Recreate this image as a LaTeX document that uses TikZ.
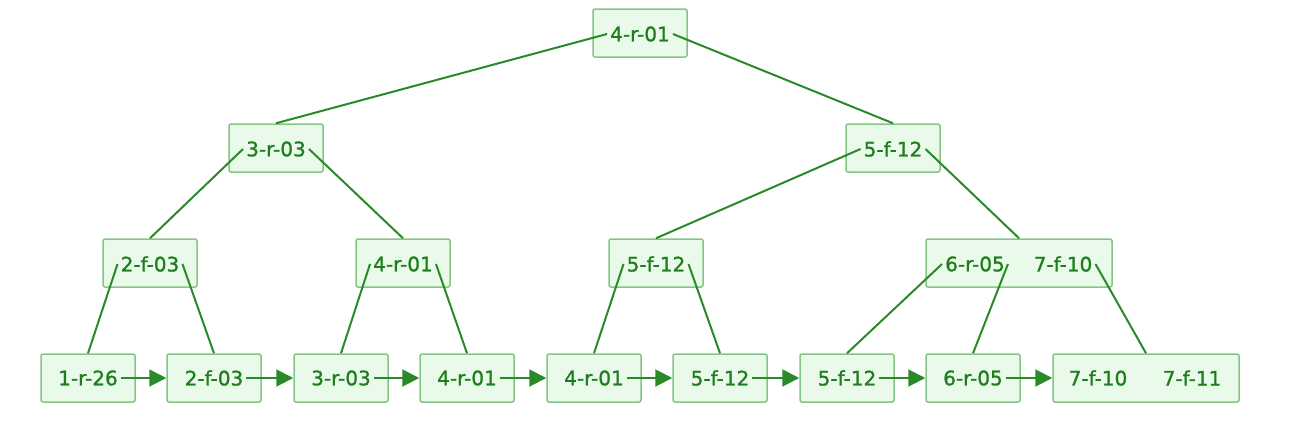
\documentclass[tikz,border=0pt]{standalone}
\usepackage{fontspec}
\setmainfont{DejaVu Sans}
\newfontfamily\keyfont[BoldFont={DejaVu Sans},BoldFeatures={FakeBold=1.2}]{DejaVu Sans}
\usetikzlibrary{arrows.meta}
\definecolor{boxfill}{HTML}{EAFAEA}
\definecolor{boxline}{HTML}{84C484}
\definecolor{txt}{HTML}{1E7E1E}
\definecolor{edge}{HTML}{2A8A2A}
\tikzset{
  bbox/.style={draw=boxline, fill=boxfill, line width=1.5pt, rounded corners=2pt, minimum width=94pt, minimum height=48pt, inner sep=0pt},
  wbox/.style={bbox, minimum width=186pt},
  key/.style={text=txt, font=\keyfont\bfseries\fontsize{20}{22}\selectfont, inner sep=3pt},
  link/.style={draw=edge, line width=2pt},
  nxt/.style={draw=edge, line width=2pt, -{Triangle[length=17pt,width=17pt]}}
}
\begin{document}
\begin{tikzpicture}[x=1pt,y=-1pt]
\useasboundingbox (0,0) rectangle (1300,440);
% root
\node[bbox] (r) at (640,33) {};
\node[key] (rk) at (640,34) {4-r-01};
% level 2
\node[bbox] (a) at (276,148) {};
\node[key] (ak) at (276,149) {3-r-03};
\node[bbox] (b) at (893,148) {};
\node[key] (bk) at (893,149) {5-f-12};
% level 3
\node[bbox] (c) at (150,263) {};
\node[key] (ck) at (150,264) {2-f-03};
\node[bbox] (d) at (403,263) {};
\node[key] (dk) at (403,264) {4-r-01};
\node[bbox] (e) at (656,263) {};
\node[key] (ek) at (656,264) {5-f-12};
\node[wbox] (f) at (1019,263) {};
\node[key] (fk1) at (975,264) {6-r-05};
\node[key] (fk2) at (1063,264) {7-f-10};
% leaves
\node[bbox] (l1) at (88,378) {};
\node[key] (l1k) at (88,378) {1-r-26};
\node[bbox] (l2) at (214,378) {};
\node[key] (l2k) at (214,378) {2-f-03};
\node[bbox] (l3) at (341,378) {};
\node[key] (l3k) at (341,378) {3-r-03};
\node[bbox] (l4) at (467,378) {};
\node[key] (l4k) at (467,378) {4-r-01};
\node[bbox] (l5) at (594,378) {};
\node[key] (l5k) at (594,378) {4-r-01};
\node[bbox] (l6) at (720,378) {};
\node[key] (l6k) at (720,378) {5-f-12};
\node[bbox] (l7) at (847,378) {};
\node[key] (l7k) at (847,378) {5-f-12};
\node[bbox] (l8) at (973,378) {};
\node[key] (l8k) at (973,378) {6-r-05};
\node[wbox] (l9) at (1146,378) {};
\node[key] (l9k1) at (1098,378) {7-f-10};
\node[key] (l9k2) at (1192,378) {7-f-11};
% tree edges
\draw[link] (rk.west) -- (a.north);
\draw[link] (rk.east) -- (b.north);
\draw[link] (ak.west) -- (c.north);
\draw[link] (ak.east) -- (d.north);
\draw[link] (bk.west) -- (e.north);
\draw[link] (bk.east) -- (f.north);
\draw[link] (ck.west) -- (l1.north);
\draw[link] (ck.east) -- (l2.north);
\draw[link] (dk.west) -- (l3.north);
\draw[link] (dk.east) -- (l4.north);
\draw[link] (ek.west) -- (l5.north);
\draw[link] (ek.east) -- (l6.north);
\draw[link] (fk1.west) -- (l7.north);
\draw[link] (fk1.east) -- (l8.north);
\draw[link] (fk2.east) -- (l9.north);
% leaf links
\draw[nxt] (l1k.east) -- (l2.west);
\draw[nxt] (l2k.east) -- (l3.west);
\draw[nxt] (l3k.east) -- (l4.west);
\draw[nxt] (l4k.east) -- (l5.west);
\draw[nxt] (l5k.east) -- (l6.west);
\draw[nxt] (l6k.east) -- (l7.west);
\draw[nxt] (l7k.east) -- (l8.west);
\draw[nxt] (l8k.east) -- (l9.west);
\end{tikzpicture}
\end{document}
